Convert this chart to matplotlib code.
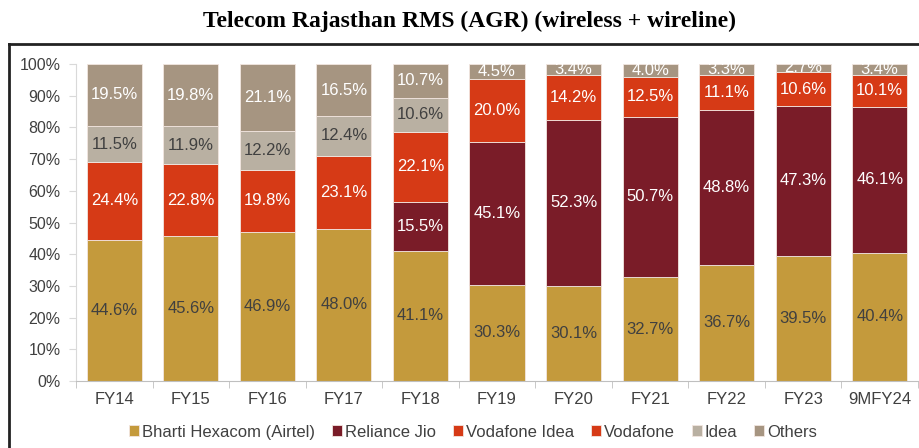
import matplotlib
matplotlib.use("Agg")
import matplotlib.pyplot as plt
import numpy as np
from matplotlib.lines import Line2D

categories = ["FY14", "FY15", "FY16", "FY17", "FY18", "FY19", "FY20", "FY21", "FY22", "FY23", "9MFY24"]
series_names = ["Bharti Hexacom (Airtel)", "Reliance Jio", "Vodafone Idea", "Vodafone", "Idea", "Others"]
bharti = [44.6, 45.6, 46.9, 48.0, 41.1, 30.3, 30.1, 32.7, 36.7, 39.5, 40.4]
jio = [0, 0, 0, 0, 15.5, 45.1, 52.3, 50.7, 48.8, 47.3, 46.1]
vodafone_idea = [0, 0, 0, 0, 0, 20.0, 14.2, 12.5, 11.1, 10.6, 10.1]
vodafone = [24.4, 22.8, 19.8, 23.1, 22.1, 0, 0, 0, 0, 0, 0]
idea = [11.5, 11.9, 12.2, 12.4, 10.6, 0, 0, 0, 0, 0, 0]
others = [19.5, 19.8, 21.1, 16.5, 10.7, 4.5, 3.4, 4.0, 3.3, 2.7, 3.4]
yticks = [0, 10, 20, 30, 40, 50, 60, 70, 80, 90, 100]

colors = ["#C49A3C", "#7A1C28", "#D63A16", "#D63A16", "#B9B0A2", "#A69581"]
text_colors = ["#404040", "white", "white", "white", "#404040", "white"]

plt.rcParams['font.family'] = ['Liberation Sans', 'DejaVu Sans']

fig = plt.figure(figsize=(9.19, 4.48), dpi=100)
ax = fig.add_axes([76 / 919, (448 - 381) / 448, (918 - 76) / 919, (381 - 64) / 448])

x = np.arange(len(categories))
data = [bharti, jio, vodafone_idea, vodafone, idea, others]
bottom = np.zeros(len(categories))
for vals, col, tc, name in zip(data, colors, text_colors, series_names):
    v = np.array(vals, dtype=float)
    ax.bar(x, v, 0.72, bottom=bottom, color=col, edgecolor="#F2E6E0", linewidth=0.6, label=name)
    for xi, b, h in zip(x, bottom, v):
        if h > 0:
            ax.text(xi, b + h / 2, f"{h:.1f}%", ha="center", va="center", color=tc, fontsize=12)
    bottom += v

ax.set_xlim(-0.5, len(categories) - 0.5)
ax.set_ylim(0, 100)
ax.set_yticks(yticks)
ax.set_yticklabels([f"{t}%" for t in yticks], fontsize=11.5, color="#404040")
ax.set_xticks(x)
ax.set_xticklabels(categories, fontsize=12, color="#404040")
ax.tick_params(axis="x", length=0, pad=8)
ax.tick_params(axis="y", length=5, color="#D9D9D9", pad=6)
ax.set_xticks(np.arange(-0.5, len(categories), 1), minor=True)
ax.tick_params(axis="x", which="minor", length=5, color="#BFBFBF")
for s in ["top", "right"]:
    ax.spines[s].set_visible(False)
ax.spines["left"].set_color("#D9D9D9")
ax.spines["bottom"].set_color("#BFBFBF")

fig.text(470 / 919, 1 - 21 / 448, "Telecom Rajasthan RMS (AGR) (wireless + wireline)",
         ha="center", va="center", fontsize=17, fontweight="bold", family=["Liberation Serif", "DejaVu Serif"])

# frame
fig.add_artist(Line2D([9 / 919, 9 / 919], [0, 1 - 44 / 448], transform=fig.transFigure, color="#222222", lw=2))
fig.add_artist(Line2D([9 / 919, 1], [1 - 44 / 448, 1 - 44 / 448], transform=fig.transFigure, color="#222222", lw=2))

handles, labels = ax.get_legend_handles_labels()
fig.legend(handles, labels, loc="center", bbox_to_anchor=(473 / 919, 1 - 432 / 448), ncol=6,
           frameon=False, fontsize=12, handlelength=0.6, handleheight=0.6, handletextpad=0.2,
           columnspacing=1.0, labelcolor="#404040")

fig.savefig("out.png", dpi=100)
